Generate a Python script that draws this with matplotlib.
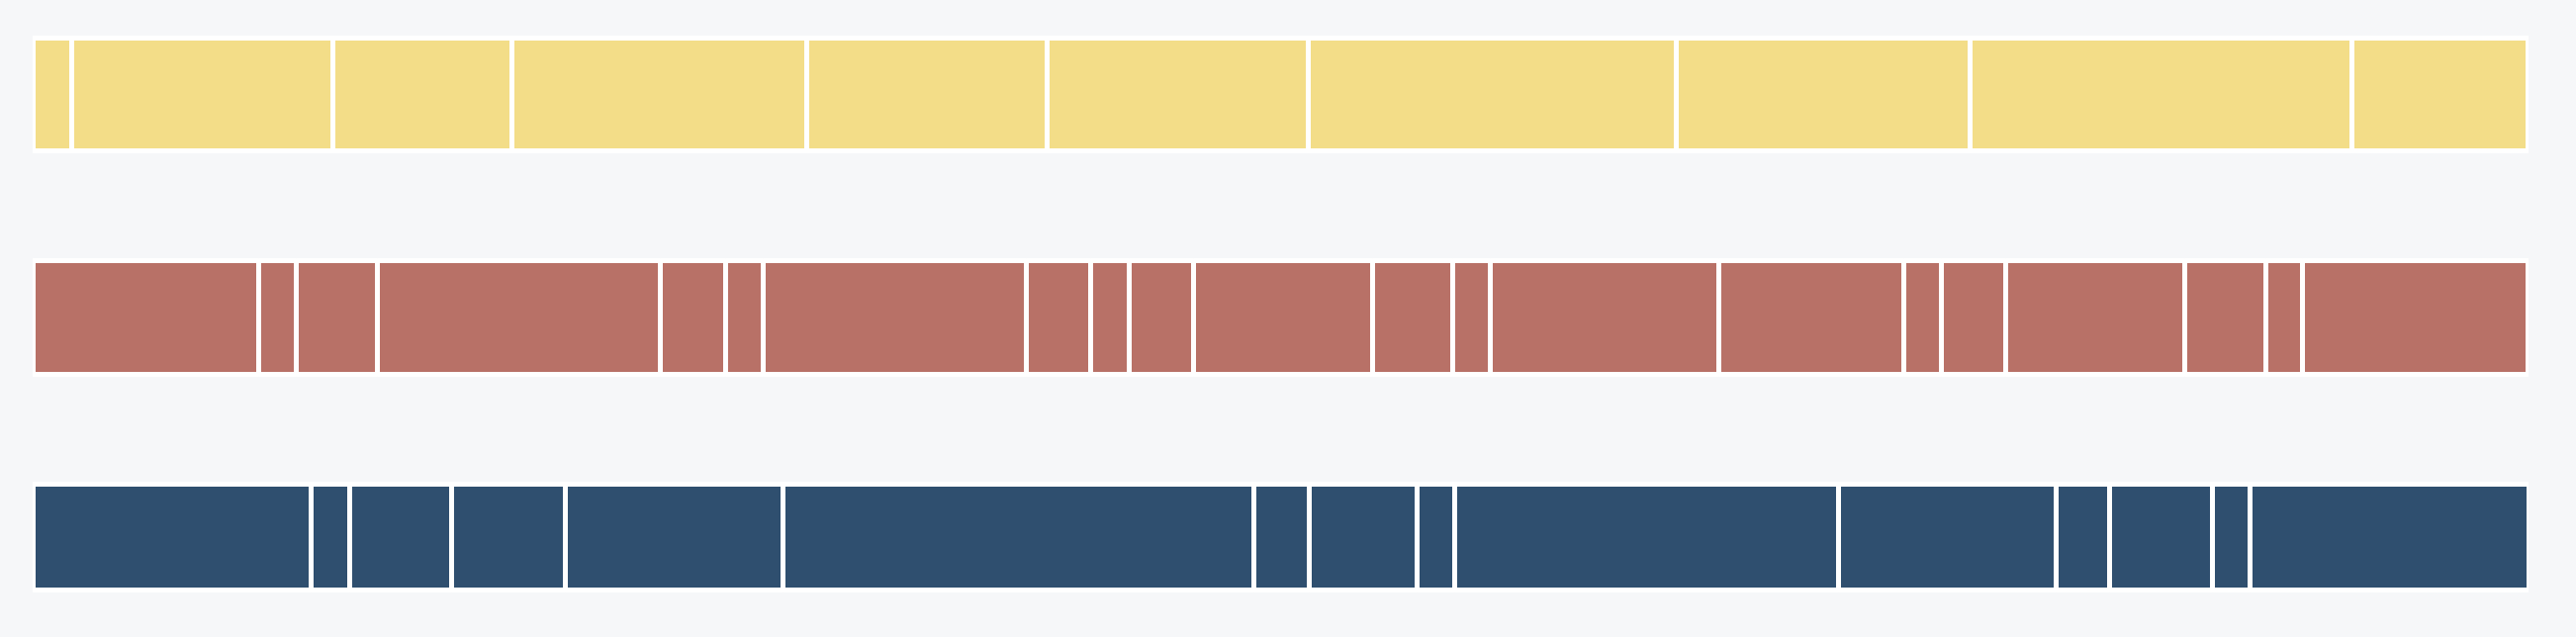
"""
Drie rijen gesegmenteerde balken (tijdlijn-achtig), elk over de volle breedte.
"""

import numpy as np
import matplotlib
matplotlib.use("Agg")
import matplotlib.pyplot as plt

# segmentlengtes per rij (willekeurige eenheden, per rij genormaliseerd)
yellow_segments = [3.9, 26.4, 18.1, 29.7, 24.3, 26.3, 37.2, 29.6, 38.6, 17.8]
red_segments = [22.8, 3.8, 8.2, 28.6, 6.6, 3.8, 26.5, 6.5, 3.9, 6.5, 18.1,
                8.1, 3.8, 23.0, 18.7, 3.8, 6.5, 18.1, 8.2, 3.7, 22.8]
blue_segments = [28.1, 3.9, 10.3, 11.5, 21.9, 47.6, 5.5, 10.9, 3.8, 38.8,
                 21.9, 5.4, 10.4, 3.8, 28.1]

BG = "#F6F7F9"
YELLOW = "#F3DD88"
RED = "#B87167"
BLUE = "#2F4F6F"

# rij-indeling in pixels van boven (top, hoogte)
ROWS = [
    (yellow_segments, YELLOW, 38.2, 113.3),
    (red_segments, RED, 263.2, 114.6),
    (blue_segments, BLUE, 488.5, 107.3),
]

W, H = 2604, 644
DPI = 200
fig = plt.figure(figsize=(W / DPI, H / DPI), dpi=DPI, facecolor=BG)
left_px, right_px = 32.5, 2555.5
ax = fig.add_axes([left_px / W, 0, (right_px - left_px) / W, 1])
ax.set_facecolor(BG)
ax.set_xlim(0, 1)
ax.set_ylim(H, 0)
ax.axis("off")

for segments, color, top, height in ROWS:
    widths = np.array(segments, dtype=float)
    widths = widths / widths.sum()
    starts = np.concatenate([[0], np.cumsum(widths)[:-1]])
    ax.broken_barh(list(zip(starts, widths)), (top, height),
                   facecolors=color, edgecolor="white", linewidth=1.8)

fig.savefig("out.png", dpi=DPI, facecolor=BG)
